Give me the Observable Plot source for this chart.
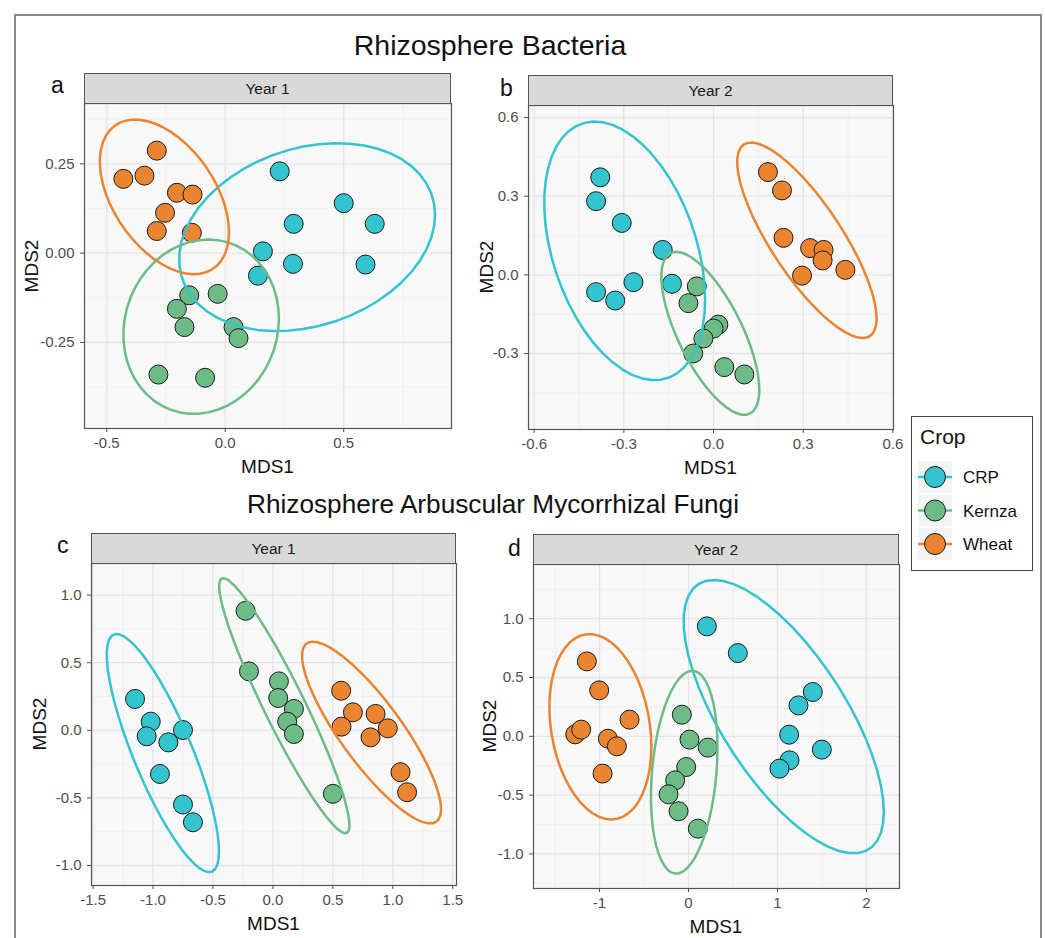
<!DOCTYPE html>
<html>
<head>
<meta charset="utf-8">
<script src="https://cdn.jsdelivr.net/npm/d3@7"></script>
<script src="https://cdn.jsdelivr.net/npm/@observablehq/plot@0.6"></script>
<style>
  html, body { margin: 0; padding: 0; background: #ffffff; }
  body { font-family: "Liberation Sans", Arial, Helvetica, sans-serif; }
  #fig { position: relative; width: 1045px; height: 938px; overflow: hidden; background: #fff; }
  .frame { position: absolute; left: 14px; top: 14px; width: 1024px; height: 960px; border: 2px solid #8a8a8a; }
  .title { position: absolute; color: #111; white-space: nowrap; transform: translateX(-50%); }
  .letter { position: absolute; font-size: 23px; color: #111; }
  .strip { position: absolute; box-sizing: border-box; background: #d9d9d9; border: 1.2px solid #555; font-size: 15.5px; color: #1a1a1a; display: flex; align-items: center; justify-content: center; }
  .xt { position: absolute; font-size: 19px; color: #111; transform: translate(-50%, -50%); white-space: nowrap; }
  .yt { position: absolute; font-size: 19px; color: #111; transform: translate(-50%, -50%) rotate(-90deg); white-space: nowrap; }
  .legend { position: absolute; box-sizing: border-box; border: 1.4px solid #444; background: #fff; }
</style>
</head>
<body>
<div id="fig"></div>
<script>
// ---------------- data ----------------
const crops = ["CRP", "Kernza", "Wheat"];
const cropColors = ["#34c4cf", "#6dbb86", "#ea8430"];
const sectionTitles = ["Rhizosphere Bacteria", "Rhizosphere Arbuscular Mycorrhizal Fungi"];
const stripLabels = ["Year 1", "Year 2", "Year 1", "Year 2"];
const panelLetters = ["a", "b", "c", "d"];

// Panel a: Bacteria, Year 1
const aCrop = ["CRP","CRP","CRP","CRP","CRP","CRP","CRP","CRP",
               "Kernza","Kernza","Kernza","Kernza","Kernza","Kernza","Kernza","Kernza",
               "Wheat","Wheat","Wheat","Wheat","Wheat","Wheat","Wheat","Wheat"];
const aMDS1 = [0.230, 0.500, 0.289, 0.631, 0.159, 0.286, 0.592, 0.138,
               -0.152, -0.032, -0.204, -0.172, 0.035, 0.056, -0.282, -0.085,
               -0.289, -0.430, -0.341, -0.204, -0.138, -0.254, -0.289, -0.141];
const aMDS2 = [0.229, 0.140, 0.082, 0.082, 0.005, -0.030, -0.032, -0.063,
               -0.118, -0.114, -0.156, -0.207, -0.207, -0.238, -0.340, -0.349,
               0.287, 0.208, 0.217, 0.169, 0.164, 0.113, 0.062, 0.057];

// Panel b: Bacteria, Year 2
const bCrop = aCrop.slice();
const bMDS1 = [-0.379, -0.393, -0.307, -0.170, -0.268, -0.393, -0.329, -0.139,
               -0.056, -0.084, 0.016, 0.000, -0.034, -0.068, 0.036, 0.103,
               0.182, 0.229, 0.234, 0.323, 0.368, 0.365, 0.296, 0.441];
const bMDS2 = [0.372, 0.281, 0.198, 0.095, -0.028, -0.066, -0.098, -0.034,
               -0.044, -0.108, -0.190, -0.205, -0.243, -0.300, -0.352, -0.380,
               0.392, 0.322, 0.141, 0.102, 0.095, 0.055, -0.003, 0.019];

// Panel c: AMF, Year 1
const cCrop = aCrop.slice();
const cMDS1 = [-1.150, -1.019, -1.053, -0.872, -0.750, -0.942, -0.750, -0.667,
               -0.228, -0.200, 0.050, 0.044, 0.175, 0.119, 0.175, 0.500,
               0.569, 0.667, 0.856, 0.572, 0.958, 0.814, 1.064, 1.119];
const cMDS2 = [0.232, 0.064, -0.044, -0.089, 0.002, -0.323, -0.549, -0.680,
               0.884, 0.436, 0.362, 0.239, 0.158, 0.064, -0.027, -0.470,
               0.293, 0.133, 0.121, 0.027, 0.015, -0.052, -0.310, -0.458];

// Panel d: AMF, Year 2
const dCrop = aCrop.slice();
const dMDS1 = [0.206, 0.554, 1.397, 1.236, 1.131, 1.498, 1.135, 1.022,
               -0.075, 0.011, 0.217, -0.026, -0.150, -0.225, -0.112, 0.105,
               -1.142, -1.004, -0.663, -1.273, -1.206, -0.906, -0.805, -0.966];
const dMDS2 = [0.935, 0.708, 0.377, 0.263, 0.014, -0.113, -0.204, -0.275,
               0.184, -0.028, -0.096, -0.261, -0.374, -0.493, -0.637, -0.785,
               0.637, 0.391, 0.142, 0.017, 0.057, -0.020, -0.085, -0.317];

// tick values and labels
const aXTicks = [-0.5, 0, 0.5], aXLabels = ["-0.5", "0.0", "0.5"];
const aYTicks = [-0.25, 0, 0.25], aYLabels = ["-0.25", "0.00", "0.25"];
const bXTicks = [-0.6, -0.3, 0, 0.3, 0.6], bXLabels = ["-0.6", "-0.3", "0.0", "0.3", "0.6"];
const bYTicks = [-0.3, 0, 0.3, 0.6], bYLabels = ["-0.3", "0.0", "0.3", "0.6"];
const cXTicks = [-1.5, -1, -0.5, 0, 0.5, 1, 1.5], cXLabels = ["-1.5", "-1.0", "-0.5", "0.0", "0.5", "1.0", "1.5"];
const cYTicks = [-1, -0.5, 0, 0.5, 1], cYLabels = ["-1.0", "-0.5", "0.0", "0.5", "1.0"];
const dXTicks = [-1, 0, 1, 2], dXLabels = ["-1", "0", "1", "2"];
const dYTicks = [-1, -0.5, 0, 0.5, 1], dYLabels = ["-1.0", "-0.5", "0.0", "0.5", "1.0"];

// ---------------- helpers ----------------
// ggplot2 stat_ellipse (type "t", level 0.95): MASS::cov.trob + F quantile radius
function trobEllipse(xs, ys, level = 0.95, segments = 51) {
  const n = xs.length, p = 2, nu = 5;
  let loc = [d3.mean(xs), d3.mean(ys)];
  let w = new Array(n).fill(1);
  let X = [];
  for (let iter = 0; iter < 25; iter++) {
    const w0 = w.slice();
    X = xs.map((x, i) => [x - loc[0], ys[i] - loc[1]]);
    const W = d3.sum(w);
    let a = 0, b = 0, c = 0;
    for (let i = 0; i < n; i++) {
      const f = w[i] / W;
      a += f * X[i][0] * X[i][0];
      b += f * X[i][0] * X[i][1];
      c += f * X[i][1] * X[i][1];
    }
    const det = a * c - b * b;
    const Q = X.map(([u, v]) => (c * u * u - 2 * b * u * v + a * v * v) / det);
    w = Q.map(q => (nu + p) / (nu + q));
    const sw = d3.sum(w);
    loc = [d3.sum(xs, (x, i) => w[i] * x) / sw, d3.sum(ys, (y, i) => w[i] * y) / sw];
    if (w.every((wi, i) => Math.abs(wi - w0[i]) < 0.01)) break;
  }
  let a = 0, b = 0, c = 0;
  for (let i = 0; i < n; i++) {
    a += w[i] * X[i][0] * X[i][0];
    b += w[i] * X[i][0] * X[i][1];
    c += w[i] * X[i][1] * X[i][1];
  }
  a /= n; b /= n; c /= n;
  const R11 = Math.sqrt(a), R12 = b / R11, R22 = Math.sqrt(Math.max(c - R12 * R12, 0));
  const dfd = n - 1;
  const fq = (dfd / 2) * (Math.pow(1 - level, -2 / dfd) - 1);
  const r = Math.sqrt(2 * fq);
  return d3.range(segments + 1).map(k => {
    const t = k * 2 * Math.PI / segments, ct = Math.cos(t), st = Math.sin(t);
    return { x: loc[0] + r * ct * R11, y: loc[1] + r * (ct * R12 + st * R22) };
  });
}

function minorOf(ticks, domain) {
  const step = ticks[1] - ticks[0];
  const out = [];
  for (let v = ticks[0] - step * 3.5; v <= ticks[ticks.length - 1] + step * 3.5; v += step) {
    const m = Math.round(v * 1e6) / 1e6;
    if (m > domain[0] && m < domain[1]) out.push(m);
  }
  return out;
}

const fig = document.getElementById("fig");
function addDiv(cls, text, style) {
  const el = document.createElement("div");
  el.className = cls;
  if (text != null) el.textContent = text;
  Object.assign(el.style, style);
  fig.appendChild(el);
  return el;
}

addDiv("frame", null, {});

// ---------------- panels ----------------
const panels = [
  { crop: aCrop, x: aMDS1, y: aMDS2, xTicks: aXTicks, xLabels: aXLabels, yTicks: aYTicks, yLabels: aYLabels,
    xDomain: [-0.594, 0.955], yDomain: [-0.491, 0.419],
    left: 84, top: 103, W: 367, H: 325, yTitleX: 32, letterX: 51, letterY: 72 },
  { crop: bCrop, x: bMDS1, y: bMDS2, xTicks: bXTicks, xLabels: bXLabels, yTicks: bYTicks, yLabels: bYLabels,
    xDomain: [-0.619, 0.602], yDomain: [-0.590, 0.646],
    left: 528, top: 105, W: 365, H: 324, yTitleX: 487, letterX: 500, letterY: 75 },
  { crop: cCrop, x: cMDS1, y: cMDS2, xTicks: cXTicks, xLabels: cXLabels, yTicks: cYTicks, yLabels: cYLabels,
    xDomain: [-1.513, 1.531], yDomain: [-1.148, 1.234],
    left: 91, top: 563, W: 365, H: 322, yTitleX: 40, letterX: 57, letterY: 532 },
  { crop: dCrop, x: dMDS1, y: dMDS2, xTicks: dXTicks, xLabels: dXLabels, yTicks: dYTicks, yLabels: dYLabels,
    xDomain: [-1.742, 2.371], yDomain: [-1.294, 1.461],
    left: 533, top: 564, W: 366, H: 324, yTitleX: 490, letterX: 508, letterY: 535 }
];

const mL = 62, mR = 3, mT = 2, mB = 50;

panels.forEach((cfg, pi) => {
  const pts = cfg.crop.map((c, i) => ({ crop: c, x: cfg.x[i], y: cfg.y[i] }));
  const ell = crops.flatMap(c => {
    const idx = d3.range(cfg.crop.length).filter(i => cfg.crop[i] === c);
    return trobEllipse(idx.map(i => cfg.x[i]), idx.map(i => cfg.y[i])).map(p => ({ ...p, crop: c }));
  });
  const xMinor = minorOf(cfg.xTicks, cfg.xDomain);
  const yMinor = minorOf(cfg.yTicks, cfg.yDomain);
  const xMajor = cfg.xTicks.filter(v => v > cfg.xDomain[0] && v < cfg.xDomain[1]);
  const yMajor = cfg.yTicks.filter(v => v > cfg.yDomain[0] && v < cfg.yDomain[1]);

  const svg = Plot.plot({
    width: cfg.W + mL + mR,
    height: cfg.H + mT + mB,
    marginLeft: mL, marginRight: mR, marginTop: mT, marginBottom: mB,
    x: { domain: cfg.xDomain, label: null },
    y: { domain: cfg.yDomain, label: null },
    color: { domain: crops, range: cropColors },
    style: { fontFamily: "'Liberation Sans', Arial, sans-serif", fontSize: "15px", color: "#4d4d4d", background: "transparent", overflow: "visible" },
    marks: [
      Plot.frame({ fill: "#f8f8f8", stroke: null }),
      Plot.ruleX(xMinor, { stroke: "#ececec", strokeWidth: 0.7 }),
      Plot.ruleY(yMinor, { stroke: "#ececec", strokeWidth: 0.7 }),
      Plot.ruleX(xMajor, { stroke: "#e4e4e4", strokeWidth: 1.3 }),
      Plot.ruleY(yMajor, { stroke: "#e4e4e4", strokeWidth: 1.3 }),
      Plot.dot(pts, { x: "x", y: "y", fill: "crop", stroke: "#1a1a1a", strokeWidth: 1, r: 9.5 }),
      Plot.line(ell, { x: "x", y: "y", z: "crop", stroke: "crop", strokeWidth: 2.5 }),
      Plot.frame({ stroke: "#555", strokeWidth: 1.2 }),
      Plot.axisX({ ticks: cfg.xTicks, tickFormat: d => cfg.xLabels[cfg.xTicks.indexOf(d)], tickSize: 4, tickPadding: 5, fontSize: 15, label: null }),
      Plot.axisY({ ticks: cfg.yTicks, tickFormat: d => cfg.yLabels[cfg.yTicks.indexOf(d)], tickSize: 4, tickPadding: 6, fontSize: 15, label: null })
    ]
  });
  svg.style.position = "absolute";
  svg.style.left = (cfg.left - mL) + "px";
  svg.style.top = (cfg.top - mT) + "px";
  fig.appendChild(svg);

  addDiv("strip", stripLabels[pi], { left: cfg.left + "px", top: (cfg.top - 30) + "px", width: cfg.W + "px", height: "31px" });
  addDiv("letter", panelLetters[pi], { left: cfg.letterX + "px", top: cfg.letterY + "px" });
  addDiv("xt", "MDS1", { left: (cfg.left + cfg.W / 2) + "px", top: (cfg.top + cfg.H + 39) + "px" });
  addDiv("yt", "MDS2", { left: cfg.yTitleX + "px", top: (cfg.top + cfg.H / 2) + "px" });
});

addDiv("title", sectionTitles[0], { left: "490px", top: "29px", fontSize: "28.5px" });
addDiv("title", sectionTitles[1], { left: "493px", top: "489px", fontSize: "26.2px" });

// ---------------- legend ----------------
const leg = addDiv("legend", null, { left: "911px", top: "416px", width: "122px", height: "155px" });
const lsvg = d3.create("svg").attr("width", 120).attr("height", 152).style("position", "absolute").style("left", "0px").style("top", "0px");
lsvg.append("text").attr("x", 8).attr("y", 27).attr("font-size", 21).attr("fill", "#111")
  .attr("font-family", "'Liberation Sans', Arial, sans-serif").text("Crop");
crops.forEach((c, i) => {
  const cy = 60 + i * 33.5;
  const g = lsvg.append("g");
  g.append("rect").attr("x", 6).attr("y", cy - 16).attr("width", 34).attr("height", 32).attr("fill", "#f4f4f4");
  g.append("line").attr("x1", 6).attr("x2", 40).attr("y1", cy).attr("y2", cy).attr("stroke", cropColors[i]).attr("stroke-width", 2.4);
  g.append("circle").attr("cx", 23).attr("cy", cy).attr("r", 10.5).attr("fill", cropColors[i]).attr("stroke", "#1a1a1a").attr("stroke-width", 1);
  g.append("text").attr("x", 51).attr("y", cy + 6).attr("font-size", 17).attr("fill", "#111")
    .attr("font-family", "'Liberation Sans', Arial, sans-serif").text(c);
});
leg.appendChild(lsvg.node());
</script>
</body>
</html>
